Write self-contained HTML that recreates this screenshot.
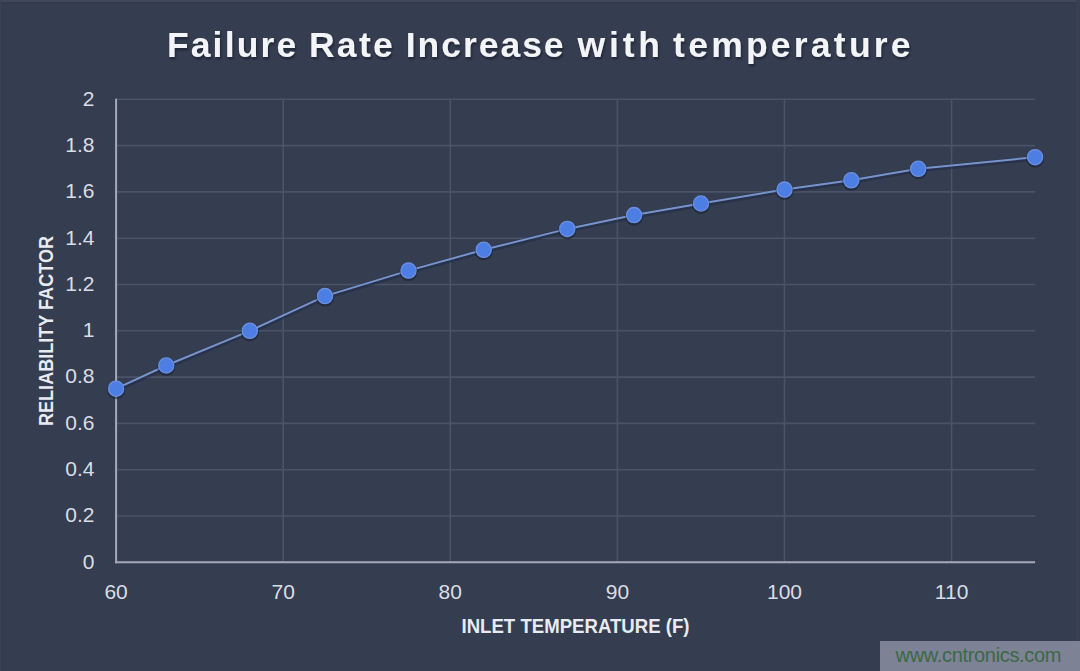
<!DOCTYPE html>
<html><head><meta charset="utf-8"><style>
html,body{margin:0;padding:0;}
body{width:1080px;height:671px;overflow:hidden;background:#353d50;position:relative;font-family:"Liberation Sans",sans-serif;}
.topstrip{position:absolute;left:0;top:0;width:1080px;height:2px;background:#414859;border-bottom:2px solid #323a4c;}
.lstrip{position:absolute;left:0;top:0;width:1px;height:671px;background:#3a4255;}
.rstrip{position:absolute;right:0;top:0;width:4px;height:671px;background:#3a4053;}
svg{position:absolute;left:0;top:0;}
.tl{font-family:"Liberation Sans",sans-serif;font-size:21px;fill:#dadde5;}
.tt{font-family:"Liberation Sans",sans-serif;font-weight:bold;font-size:35.5px;fill:#f2f4f7;}
.at{font-family:"Liberation Sans",sans-serif;font-weight:bold;font-size:20px;fill:#e8ebf0;}
.wm{position:absolute;left:880px;top:641px;width:200px;height:30px;background:#7d8294;}
.wt{font-family:"Liberation Sans",sans-serif;font-size:20px;fill:#3c6945;}
</style></head><body>
<div class="topstrip"></div>
<div class="rstrip"></div>
<div class="lstrip"></div>
<svg width="1080" height="671" viewBox="0 0 1080 671">
<defs><filter id="ts" x="-5%" y="-20%" width="110%" height="150%"><feGaussianBlur in="SourceAlpha" stdDeviation="1.2"/><feOffset dx="1" dy="2" result="b"/><feFlood flood-color="#0f1420" flood-opacity="0.6"/><feComposite in2="b" operator="in"/><feMerge><feMergeNode/><feMergeNode in="SourceGraphic"/></feMerge></filter></defs>
<line x1="116.1" y1="516.0" x2="1035.1" y2="516.0" stroke="#4a5367" stroke-width="1.6"/>
<line x1="116.1" y1="469.7" x2="1035.1" y2="469.7" stroke="#4a5367" stroke-width="1.6"/>
<line x1="116.1" y1="423.4" x2="1035.1" y2="423.4" stroke="#4a5367" stroke-width="1.6"/>
<line x1="116.1" y1="377.1" x2="1035.1" y2="377.1" stroke="#4a5367" stroke-width="1.6"/>
<line x1="116.1" y1="330.8" x2="1035.1" y2="330.8" stroke="#4a5367" stroke-width="1.6"/>
<line x1="116.1" y1="284.5" x2="1035.1" y2="284.5" stroke="#4a5367" stroke-width="1.6"/>
<line x1="116.1" y1="238.2" x2="1035.1" y2="238.2" stroke="#4a5367" stroke-width="1.6"/>
<line x1="116.1" y1="191.9" x2="1035.1" y2="191.9" stroke="#4a5367" stroke-width="1.6"/>
<line x1="116.1" y1="145.6" x2="1035.1" y2="145.6" stroke="#4a5367" stroke-width="1.6"/>
<line x1="116.1" y1="99.3" x2="1035.1" y2="99.3" stroke="#4a5367" stroke-width="1.6"/>
<line x1="283.2" y1="99.3" x2="283.2" y2="562.3" stroke="#4a5367" stroke-width="1.6"/>
<line x1="450.3" y1="99.3" x2="450.3" y2="562.3" stroke="#4a5367" stroke-width="1.6"/>
<line x1="617.4" y1="99.3" x2="617.4" y2="562.3" stroke="#4a5367" stroke-width="1.6"/>
<line x1="784.5" y1="99.3" x2="784.5" y2="562.3" stroke="#4a5367" stroke-width="1.6"/>
<line x1="951.6" y1="99.3" x2="951.6" y2="562.3" stroke="#4a5367" stroke-width="1.6"/>
<line x1="116.1" y1="98.8" x2="116.1" y2="563.3" stroke="#a4aab8" stroke-width="2"/>
<line x1="115.1" y1="562.3" x2="1035.1" y2="562.3" stroke="#a4aab8" stroke-width="2"/>
<polyline points="116.1,388.7 166.2,365.5 249.8,330.8 325.0,296.1 408.5,270.6 483.7,249.8 567.3,228.9 634.1,215.1 701.0,203.5 784.5,189.6 851.3,180.3 918.2,168.8 1035.1,157.2" fill="none" stroke="#1e2946" stroke-width="5" opacity="0.55" transform="translate(0.5,1)"/>
<polyline points="116.1,388.7 166.2,365.5 249.8,330.8 325.0,296.1 408.5,270.6 483.7,249.8 567.3,228.9 634.1,215.1 701.0,203.5 784.5,189.6 851.3,180.3 918.2,168.8 1035.1,157.2" fill="none" stroke="#7894cc" stroke-width="2"/>
<circle cx="116.1" cy="390.2" r="9" fill="#141c30" opacity="0.5"/>
<circle cx="166.2" cy="367.0" r="9" fill="#141c30" opacity="0.5"/>
<circle cx="249.8" cy="332.3" r="9" fill="#141c30" opacity="0.5"/>
<circle cx="325.0" cy="297.6" r="9" fill="#141c30" opacity="0.5"/>
<circle cx="408.5" cy="272.1" r="9" fill="#141c30" opacity="0.5"/>
<circle cx="483.7" cy="251.3" r="9" fill="#141c30" opacity="0.5"/>
<circle cx="567.3" cy="230.4" r="9" fill="#141c30" opacity="0.5"/>
<circle cx="634.1" cy="216.6" r="9" fill="#141c30" opacity="0.5"/>
<circle cx="701.0" cy="205.0" r="9" fill="#141c30" opacity="0.5"/>
<circle cx="784.5" cy="191.1" r="9" fill="#141c30" opacity="0.5"/>
<circle cx="851.3" cy="181.8" r="9" fill="#141c30" opacity="0.5"/>
<circle cx="918.2" cy="170.2" r="9" fill="#141c30" opacity="0.5"/>
<circle cx="1035.1" cy="158.7" r="9" fill="#141c30" opacity="0.5"/>
<circle cx="116.1" cy="388.7" r="7.6" fill="#4d7ee4" stroke="#6b90e2" stroke-width="1.3"/>
<circle cx="166.2" cy="365.5" r="7.6" fill="#4d7ee4" stroke="#6b90e2" stroke-width="1.3"/>
<circle cx="249.8" cy="330.8" r="7.6" fill="#4d7ee4" stroke="#6b90e2" stroke-width="1.3"/>
<circle cx="325.0" cy="296.1" r="7.6" fill="#4d7ee4" stroke="#6b90e2" stroke-width="1.3"/>
<circle cx="408.5" cy="270.6" r="7.6" fill="#4d7ee4" stroke="#6b90e2" stroke-width="1.3"/>
<circle cx="483.7" cy="249.8" r="7.6" fill="#4d7ee4" stroke="#6b90e2" stroke-width="1.3"/>
<circle cx="567.3" cy="228.9" r="7.6" fill="#4d7ee4" stroke="#6b90e2" stroke-width="1.3"/>
<circle cx="634.1" cy="215.1" r="7.6" fill="#4d7ee4" stroke="#6b90e2" stroke-width="1.3"/>
<circle cx="701.0" cy="203.5" r="7.6" fill="#4d7ee4" stroke="#6b90e2" stroke-width="1.3"/>
<circle cx="784.5" cy="189.6" r="7.6" fill="#4d7ee4" stroke="#6b90e2" stroke-width="1.3"/>
<circle cx="851.3" cy="180.3" r="7.6" fill="#4d7ee4" stroke="#6b90e2" stroke-width="1.3"/>
<circle cx="918.2" cy="168.8" r="7.6" fill="#4d7ee4" stroke="#6b90e2" stroke-width="1.3"/>
<circle cx="1035.1" cy="157.2" r="7.6" fill="#4d7ee4" stroke="#6b90e2" stroke-width="1.3"/>
<text x="94.5" y="568.6" text-anchor="end" class="tl">0</text>
<text x="94.5" y="522.3" text-anchor="end" class="tl">0.2</text>
<text x="94.5" y="476.0" text-anchor="end" class="tl">0.4</text>
<text x="94.5" y="429.7" text-anchor="end" class="tl">0.6</text>
<text x="94.5" y="383.4" text-anchor="end" class="tl">0.8</text>
<text x="94.5" y="337.1" text-anchor="end" class="tl">1</text>
<text x="94.5" y="290.8" text-anchor="end" class="tl">1.2</text>
<text x="94.5" y="244.5" text-anchor="end" class="tl">1.4</text>
<text x="94.5" y="198.2" text-anchor="end" class="tl">1.6</text>
<text x="94.5" y="151.9" text-anchor="end" class="tl">1.8</text>
<text x="94.5" y="105.6" text-anchor="end" class="tl">2</text>
<text x="116.1" y="598.6" text-anchor="middle" class="tl">60</text>
<text x="283.2" y="598.6" text-anchor="middle" class="tl">70</text>
<text x="450.3" y="598.6" text-anchor="middle" class="tl">80</text>
<text x="617.4" y="598.6" text-anchor="middle" class="tl">90</text>
<text x="784.5" y="598.6" text-anchor="middle" class="tl">100</text>
<text x="951.6" y="598.6" text-anchor="middle" class="tl">110</text>
<text x="166.9" y="57" class="tt" textLength="129.3" lengthAdjust="spacing" filter="url(#ts)">Failure</text>
<text x="308.9" y="57" class="tt" textLength="83.9" lengthAdjust="spacing" filter="url(#ts)">Rate</text>
<text x="405.7" y="57" class="tt" textLength="157.9" lengthAdjust="spacing" filter="url(#ts)">Increase</text>
<text x="577.5" y="57" class="tt" textLength="82.5" lengthAdjust="spacing" filter="url(#ts)">with</text>
<text x="673.1" y="57" class="tt" textLength="237.5" lengthAdjust="spacing" filter="url(#ts)">temperature</text>
<text x="461.5" y="633.3" class="at" textLength="228" lengthAdjust="spacingAndGlyphs">INLET TEMPERATURE (F)</text>
<text transform="translate(53.3,426) rotate(-90)" x="0" y="0" class="at" textLength="190" lengthAdjust="spacingAndGlyphs">RELIABILITY FACTOR</text>
</svg>
<div class="wm"></div>
<svg width="1080" height="671" viewBox="0 0 1080 671" style="position:absolute;left:0;top:0">
<text x="895.5" y="662.3" class="wt" textLength="166" lengthAdjust="spacing">www.cntronics.com</text>
</svg>
</body></html>
